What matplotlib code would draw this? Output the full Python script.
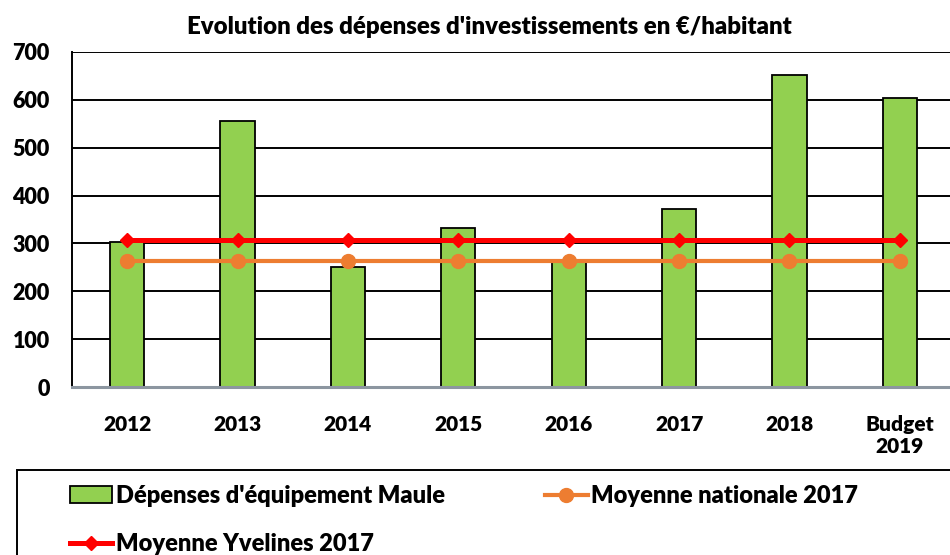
import numpy as np
import matplotlib.pyplot as plt
from matplotlib.patches import Rectangle
from matplotlib.lines import Line2D

plt.rcParams['font.family'] = ['Lato', 'DejaVu Sans']
W = "heavy"

categories = ["2012", "2013", "2014", "2015", "2016", "2017", "2018", "Budget\n2019"]
depenses = [302, 556, 251, 332, 266, 372, 652, 604]
moy_nationale = [263] * 8
moy_yvelines = [307] * 8

green = "#92D050"
orange = "#ED7D31"
red = "#FF0000"

fig = plt.figure(figsize=(9.5, 5.55), dpi=100)
ax = fig.add_axes([72 / 950, 168 / 555, 883 / 950, 335 / 555])

x = np.arange(len(categories))
ax.bar(x, depenses, width=0.31, color=green, edgecolor="black", linewidth=1.3, zorder=2)
ax.plot(x, moy_nationale, color=orange, lw=3, marker="o", markersize=10, zorder=3)
ax.plot(x, moy_yvelines, color=red, lw=3.6, marker="D", markersize=7, zorder=4)

ax.set_xlim(-0.5, 7.5)
ax.set_ylim(0, 700)
ax.set_yticks(range(0, 701, 100))
ax.set_xticks(x)
ax.set_xticklabels(categories, fontsize=15, fontweight=W)
ax.tick_params(axis="y", labelsize=15.5, length=0, pad=16)
ax.tick_params(axis="x", length=0, pad=20)
for lab in ax.get_yticklabels():
    lab.set_fontweight(W)
ax.yaxis.grid(True, color="black", lw=1.4, zorder=0)
ax.set_axisbelow(True)
for s in ["top", "right"]:
    ax.spines[s].set_visible(False)
ax.spines["left"].set_color("black")
ax.spines["left"].set_linewidth(1.4)
ax.spines["bottom"].set_color("#8C96A0")
ax.spines["bottom"].set_linewidth(2.2)

fig.text(489 / 950, 1 - 27 / 555, "Evolution des dépenses d'investissements en €/habitant",
         ha="center", va="center", fontsize=17.3, fontweight=W)

# legend frame
fig.patches.append(Rectangle((17 / 950, -0.05), 1.0, (555 - 470) / 555 + 0.05,
                             transform=fig.transFigure, fill=False,
                             edgecolor="black", lw=1.4))

handles = [
    Rectangle((0, 0), 1, 1, facecolor=green, edgecolor="black", lw=1.3),
    Line2D([], [], color=red, lw=3.6, marker="D", markersize=7),
    Line2D([], [], color=orange, lw=3, marker="o", markersize=10),
]
labels = ["Dépenses d'équipement Maule", "Moyenne Yvelines 2017", "Moyenne nationale 2017"]
fig.legend(handles, labels, ncol=2, loc="upper left", bbox_to_anchor=(58 / 950, 1 - 473 / 555),
           borderpad=0, frameon=False, prop={"size": 17, "weight": W}, handlelength=1.8,
           handletextpad=0.15, columnspacing=4.25, labelspacing=1.13)

fig.savefig("out.png", dpi=100)
